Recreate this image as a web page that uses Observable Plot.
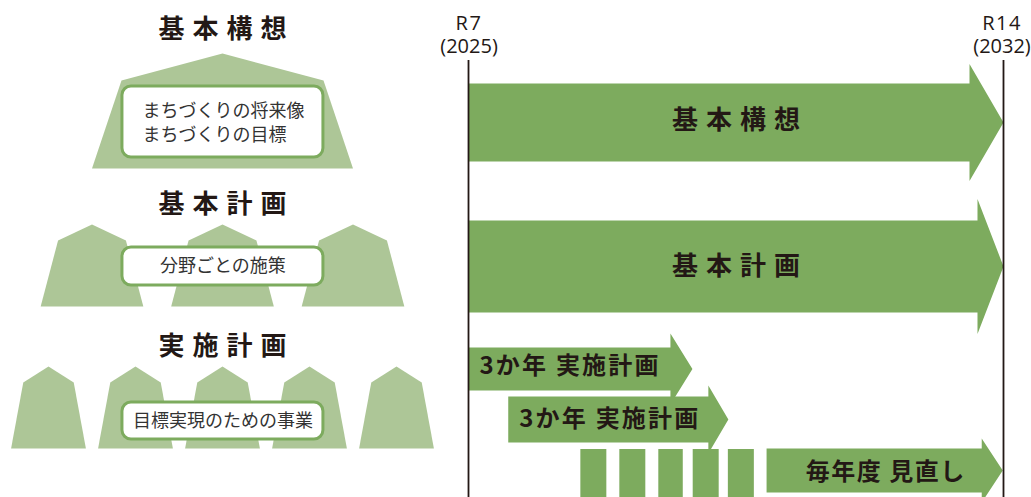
<!DOCTYPE html>
<html><head><meta charset="utf-8">
<script src="https://cdn.jsdelivr.net/npm/d3@7"></script>
<script src="https://cdn.jsdelivr.net/npm/@observablehq/plot@0.6"></script>
<style>
html,body{margin:0;padding:0;background:#fff;}
#wrap{display:flex;width:1031px;height:497px;overflow:hidden;}
#wrap svg{display:block;flex:none;}
</style></head><body><div id="wrap"></div>
<script>
// ---------- data ----------
const levels = ["基本構想", "基本計画", "実施計画"];
const levelItems = [["まちづくりの将来像", "まちづくりの目標"], ["分野ごとの施策"], ["目標実現のための事業"]];
const levelShapeCounts = [1, 3, 5];

const plans = ["基本構想", "基本計画", "3か年 実施計画", "3か年 実施計画", "毎年度 見直し"];
const planStart = [2025, 2025, 2025, 2025.52, 2028.9];
const planEnd = [2032, 2032, 2027.93, 2028.4, 2031.99];
const reviewStart = [2026.47, 2026.98, 2027.49, 2027.94, 2028.4];
const reviewEnd = [2026.81, 2027.32, 2027.81, 2028.28, 2028.74];
const tickYears = [2025, 2032];
const tickEras = ["R7", "R14"];

// ---------- style / layout ----------
const GREEN = "#7dab5e", LIGHT = "#adc697", INK = "#231815";
const JP = "'Noto Sans CJK JP', 'Noto Sans', sans-serif";
const H = 497;

// left diagram
const LEFT_W = 440, unitPx = 87, centerPx = 222;
const levelLayout = [
  {titleY: 29, apex: 53, shoulder: 80, bottom: 168, shoulderHalf: 1.161, bottomHalf: 1.5, spacing: 0, boxY: [86, 157], textX: -0.92, anchor: "start", textY: [110.5, 134.5]},
  {titleY: 204, apex: 224, shoulder: 240, bottom: 306, shoulderHalf: 0.39, bottomHalf: 0.59, spacing: 1.5, boxY: [247, 285], textX: 0.005, anchor: "middle", textY: [266]},
  {titleY: 346, apex: 366, shoulder: 382, bottom: 448, shoulderHalf: 0.29, bottomHalf: 0.43, spacing: 1, boxY: [402, 439], textX: 0.005, anchor: "middle", textY: [421]}
];
const boxX = [-1.15, 1.16];

const shapePts = [];
levels.forEach((lv, i) => {
  const L = levelLayout[i], n = levelShapeCounts[i];
  for (let k = 0; k < n; k++) {
    const c = (k - (n - 1) / 2) * L.spacing, id = `${i}-${k}`;
    [[c, L.apex], [c + L.shoulderHalf, L.shoulder], [c + L.bottomHalf, L.bottom],
     [c - L.bottomHalf, L.bottom], [c - L.shoulderHalf, L.shoulder], [c, L.apex]]
      .forEach(([x, y]) => shapePts.push({x, y, id}));
  }
});
const itemTexts = [];
levelItems.forEach((items, i) => items.forEach((t, j) =>
  itemTexts.push({text: t, x: levelLayout[i].textX, y: levelLayout[i].textY[j], anchor: levelLayout[i].anchor})));

const left = Plot.plot({
  width: LEFT_W, height: H, marginTop: 0, marginRight: 0, marginBottom: 0, marginLeft: 0,
  x: {domain: [-centerPx / unitPx, (LEFT_W - centerPx) / unitPx], axis: null},
  y: {domain: [0, H], range: [0, H], axis: null},
  marks: [
    Plot.line(shapePts, {x: "x", y: "y", z: "id", fill: LIGHT, stroke: "none"}),
    Plot.rect(levels, {x1: () => boxX[0], x2: () => boxX[1], y1: (d, i) => levelLayout[i].boxY[0], y2: (d, i) => levelLayout[i].boxY[1],
      fill: "white", stroke: GREEN, strokeWidth: 3, rx: 9}),
    Plot.text(itemTexts.filter(d => d.anchor === "start"), {x: "x", y: "y", text: "text", textAnchor: "start", fontSize: 18, fill: "#333", fontFamily: JP}),
    Plot.text(itemTexts.filter(d => d.anchor === "middle"), {x: "x", y: "y", text: "text", textAnchor: "middle", fontSize: 18, fill: "#333", fontFamily: JP}),
    Plot.text(levels, {x: () => 0, y: (d, i) => levelLayout[i].titleY, text: d => d, fontSize: 26, fontWeight: "bold", fill: INK, fontFamily: JP, dx: 4})
  ]
});

// right timeline
const RIGHT_W = 591;
const xDomain = [2024.6336, 2032.3664];
const pxPerYear = RIGHT_W / (xDomain[1] - xDomain[0]);
const arrowLayout = {
  rowY: [122, 266, 368.5, 419, 470],
  bodyHalf: [39, 46, 21.5, 23, 22],
  headHalf: [58.5, 67.5, 35.5, 34, 32],
  headPx: [34, 26, 22, 20, 21],
  anchor: ["middle", "middle", "start", "start", "middle"],
  labelPad: 11,
  labelY: [120, 266, 366, 419, 472],
  labelSize: [26, 26, 24, 24, 24]
};
const tickDx = [0.5, -1.5];
const spacingFor = {"基本構想": 8, "基本計画": 8, "実施計画": 8, "3か年 実施計画": 2.2, "毎年度 見直し": 1.5};

const arrowPts = [];
plans.forEach((p, i) => {
  const s = planStart[i], e = planEnd[i], hl = arrowLayout.headPx[i] / pxPerYear;
  const yc = arrowLayout.rowY[i], bh = arrowLayout.bodyHalf[i], hh = arrowLayout.headHalf[i];
  [[s, yc - bh], [e - hl, yc - bh], [e - hl, yc - hh], [e, yc], [e - hl, yc + hh], [e - hl, yc + bh], [s, yc + bh], [s, yc - bh]]
    .forEach(([x, y]) => arrowPts.push({x, y, id: i}));
});
const labels = plans.map((p, i) => ({
  text: p,
  x: arrowLayout.anchor[i] === "middle" ? (planStart[i] + planEnd[i]) / 2 : planStart[i] + arrowLayout.labelPad / pxPerYear,
  y: arrowLayout.labelY[i], size: arrowLayout.labelSize[i], anchor: arrowLayout.anchor[i]
}));
const tickMarks = tickYears.flatMap((yr, i) => [
  Plot.text([yr], {x: d => d, y: () => 23, text: () => tickEras[i], fontSize: 20, fill: INK, fontFamily: "'Open Sans', sans-serif", dx: tickDx[i]}),
  Plot.text([yr], {x: d => d, y: () => 46, text: d => `(${d})`, fontSize: 20, fill: INK, fontFamily: "'Open Sans', sans-serif", dx: tickDx[i]})
]);

const right = Plot.plot({
  width: RIGHT_W, height: H, marginTop: 0, marginRight: 0, marginBottom: 0, marginLeft: 0,
  x: {domain: xDomain, axis: null},
  y: {domain: [0, H], range: [0, H], axis: null},
  marks: [
    Plot.line(arrowPts, {x: "x", y: "y", z: "id", fill: GREEN, stroke: "none"}),
    Plot.rect(reviewStart, {x1: d => d, x2: (d, i) => reviewEnd[i], y1: () => 449, y2: () => H, fill: GREEN}),
    Plot.ruleX(tickYears, {y1: 60, y2: H, stroke: INK, strokeWidth: 1.8}),
    Plot.text(labels.filter(d => d.size === 26), {x: "x", y: "y", text: "text", textAnchor: "middle", fontSize: 26, fontWeight: "bold", fill: INK, fontFamily: JP, dx: 4}),
    Plot.text(labels.filter(d => d.size !== 26 && d.anchor === "middle"), {x: "x", y: "y", text: "text", textAnchor: "middle", fontSize: 24, fontWeight: "bold", fill: INK, fontFamily: JP, dx: 1}),
    Plot.text(labels.filter(d => d.size !== 26 && d.anchor === "start"), {x: "x", y: "y", text: "text", textAnchor: "start", fontSize: 24, fontWeight: "bold", fill: INK, fontFamily: JP}),
    ...tickMarks
  ]
});

for (const svg of [left, right]) {
  d3.select(svg).selectAll("text").each(function () {
    const sp = spacingFor[this.textContent];
    if (sp) this.setAttribute("letter-spacing", sp + "px");
    if (/^R\d+$/.test(this.textContent)) this.setAttribute("letter-spacing", "1.5px");
  });
}
document.getElementById("wrap").append(left, right);
</script>
</body></html>
